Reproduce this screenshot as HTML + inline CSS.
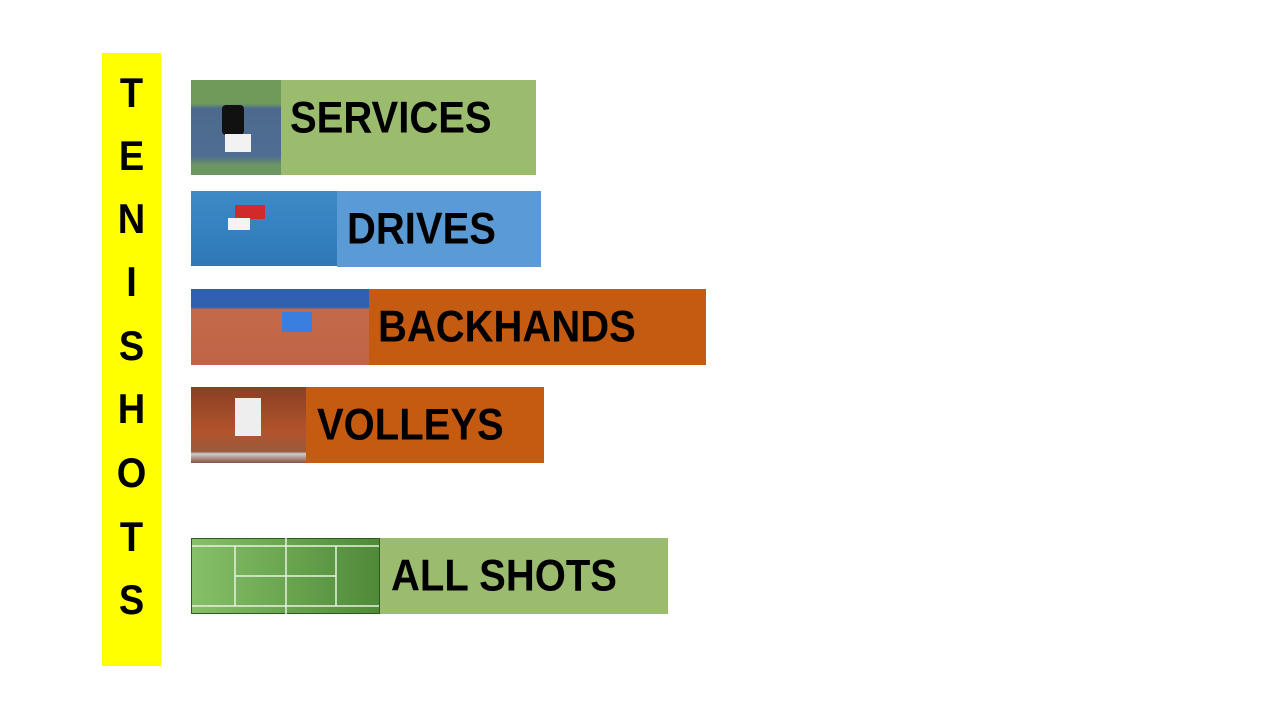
<!DOCTYPE html>
<html><head><meta charset="utf-8"><style>
body{margin:0;width:1280px;height:720px;background:#fff;position:relative;overflow:hidden;font-family:"Liberation Sans",sans-serif;font-weight:bold}
.a{position:absolute}
.t{position:absolute;font-size:40px;color:#000;line-height:1;transform:scaleY(1.12);transform-origin:left center;white-space:nowrap}
.bar{left:102px;top:53px;width:59px;height:613px;background:#ffff00}
.L{position:absolute;left:102px;width:59px;text-align:center;font-size:38px;line-height:1;transform:scaleY(1.1)}
</style></head><body>
<div class="a bar"></div>
<div class="L" style="top:75px">T</div>
<div class="L" style="top:138px">E</div>
<div class="L" style="top:201px">N</div>
<div class="L" style="top:264px">I</div>
<div class="L" style="top:328px">S</div>
<div class="L" style="top:391px">H</div>
<div class="L" style="top:455px">O</div>
<div class="L" style="top:519px">T</div>
<div class="L" style="top:582px">S</div>

<!-- services -->
<div class="a" style="left:191px;top:80px;width:90px;height:95px;background:linear-gradient(180deg,#6f9a5a 0%,#6f9a5a 25%,#4d6a8e 30%,#4f6d92 80%,#6c9660 90%)"></div>
<div class="a" style="left:222px;top:105px;width:22px;height:30px;background:#111;border-radius:4px"></div>
<div class="a" style="left:225px;top:134px;width:26px;height:18px;background:#f2f2f2"></div>
<div class="a" style="left:281px;top:80px;width:255px;height:95px;background:#9bbb6e"></div>
<div class="t" style="left:290px;top:98px">SERVICES</div>

<!-- drives -->
<div class="a" style="left:191px;top:191px;width:146px;height:75px;background:linear-gradient(180deg,#3d8ac6,#2f78b8)"></div>
<div class="a" style="left:235px;top:205px;width:30px;height:14px;background:#d02a2a"></div>
<div class="a" style="left:228px;top:218px;width:22px;height:12px;background:#f3f3f3"></div>
<div class="a" style="left:337px;top:191px;width:204px;height:76px;background:#5b9bd5"></div>
<div class="t" style="left:347px;top:209px">DRIVES</div>

<!-- backhands -->
<div class="a" style="left:191px;top:289px;width:178px;height:76px;background:linear-gradient(180deg,#2e62b0 0%,#2e62b0 24%,#c5694a 27%,#c06447 100%)"></div>
<div class="a" style="left:282px;top:312px;width:30px;height:20px;background:#3a7ee0"></div>
<div class="a" style="left:369px;top:289px;width:337px;height:76px;background:#c55a11"></div>
<div class="t" style="left:378px;top:307px">BACKHANDS</div>

<!-- volleys -->
<div class="a" style="left:191px;top:387px;width:115px;height:76px;background:linear-gradient(180deg,#8a3f22,#b2542d 60%,#9a5a3c 85%,#ccc 88%,#8a5040)"></div>
<div class="a" style="left:235px;top:398px;width:26px;height:38px;background:#eee"></div>
<div class="a" style="left:306px;top:387px;width:238px;height:76px;background:#c55a11"></div>
<div class="t" style="left:317px;top:405px">VOLLEYS</div>

<!-- all shots -->
<div class="a" style="left:191px;top:538px;width:189px;height:76px;background:linear-gradient(90deg,#86c068,#4e8a38);box-sizing:border-box;border:1px solid #2d5a20"></div>
<svg class="a" style="left:191px;top:538px" width="189" height="76">
<g stroke="#e8f2e0" stroke-width="1.5" fill="none">
<line x1="1" y1="8" x2="188" y2="8"/><line x1="1" y1="68" x2="188" y2="68"/>
<line x1="44" y1="8" x2="44" y2="68"/><line x1="145" y1="8" x2="145" y2="68"/>
<line x1="44" y1="38" x2="145" y2="38"/><line x1="95" y1="0" x2="95" y2="76"/>
</g></svg>
<div class="a" style="left:380px;top:538px;width:288px;height:76px;background:#9bbb6e"></div>
<div class="t" style="left:391px;top:556px">ALL SHOTS</div>
</body></html>
